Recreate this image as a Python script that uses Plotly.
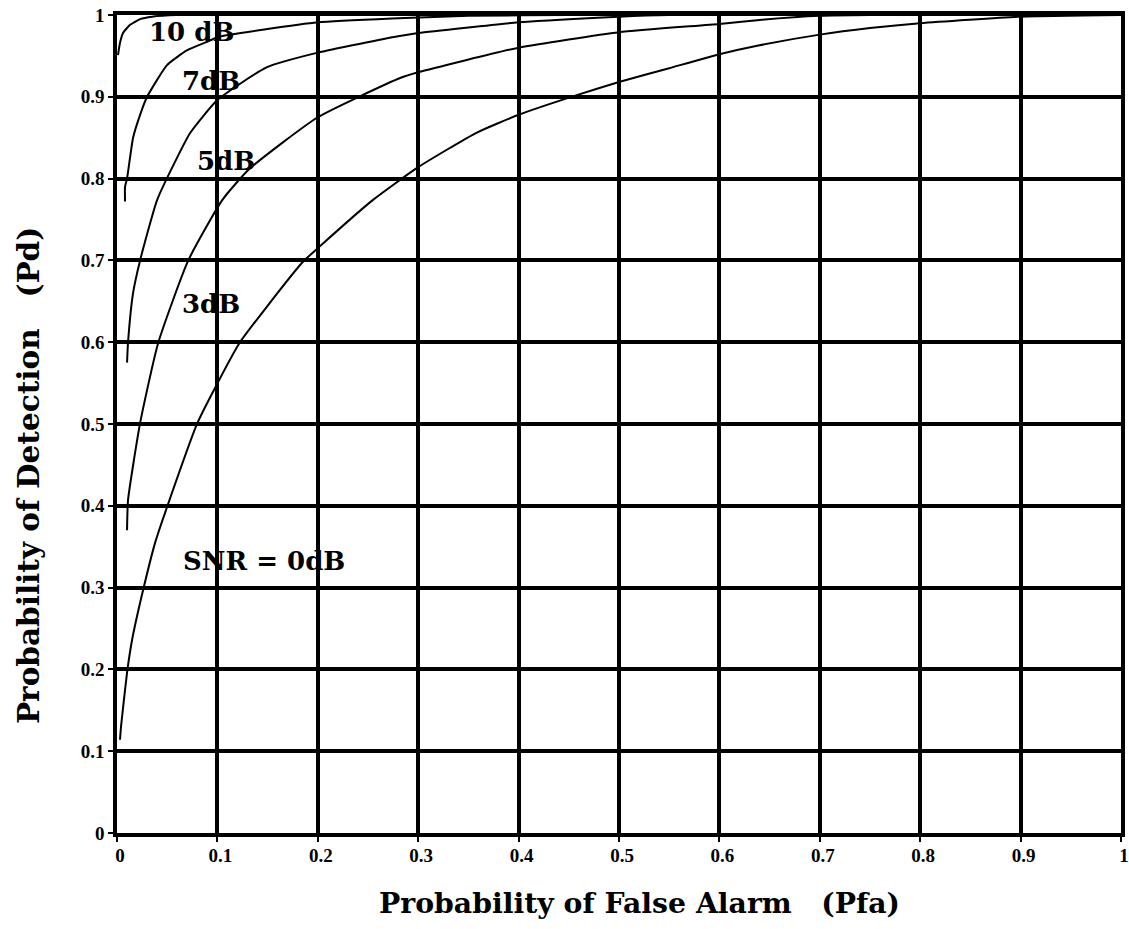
import plotly.graph_objects as go

# Tick values / labels
tick_vals = [0, 0.1, 0.2, 0.3, 0.4, 0.5, 0.6, 0.7, 0.8, 0.9, 1.0]
tick_text = ["0", "0.1", "0.2", "0.3", "0.4", "0.5", "0.6", "0.7", "0.8", "0.9", "1"]

# ROC curves (Pfa, Pd)
snr10_pfa = [0.001, 0.003, 0.006, 0.013, 0.023, 0.035, 0.06, 1.0]
snr10_pd = [0.951, 0.966, 0.978, 0.988, 0.995, 0.998, 1.0, 1.0]

snr7_pfa = [0.008, 0.008, 0.01, 0.016, 0.023, 0.03, 0.05, 0.07, 0.093, 0.1, 0.2, 0.28, 0.35, 0.45, 1.0]
snr7_pd = [0.772, 0.79, 0.80, 0.85, 0.878, 0.90, 0.939, 0.957, 0.969, 0.973, 0.991, 0.996, 0.999, 1.0, 1.0]

snr5_pfa = [0.010, 0.011, 0.016, 0.023, 0.04, 0.06, 0.073, 0.1, 0.149, 0.2, 0.28, 0.3, 0.4, 0.5, 0.55, 1.0]
snr5_pd = [0.575, 0.60, 0.66, 0.70, 0.774, 0.826, 0.856, 0.896, 0.936, 0.954, 0.974, 0.978, 0.991, 0.998, 1.0, 1.0]

snr3_pfa = [0.010, 0.011, 0.023, 0.041, 0.071, 0.105, 0.132, 0.2, 0.282, 0.3, 0.4, 0.5, 0.6, 0.64, 0.7, 0.75, 1.0]
snr3_pd = [0.37, 0.407, 0.501, 0.599, 0.70, 0.774, 0.812, 0.875, 0.923, 0.930, 0.960, 0.979, 0.989, 0.994, 0.999, 1.0, 1.0]

snr0_pfa = [0.003, 0.004, 0.01, 0.015, 0.026, 0.038, 0.05, 0.08, 0.098, 0.122, 0.149, 0.185, 0.2, 0.255,
            0.3, 0.358, 0.4, 0.458, 0.5, 0.55, 0.6, 0.64, 0.7, 0.75, 0.8, 0.9, 1.0]
snr0_pd = [0.114, 0.13, 0.196, 0.236, 0.297, 0.355, 0.399, 0.501, 0.545, 0.599, 0.643, 0.698, 0.715, 0.774,
           0.814, 0.856, 0.878, 0.902, 0.918, 0.935, 0.952, 0.963, 0.976, 0.984, 0.99, 0.998, 1.0]

# Curve labels (text, Pfa, Pd)
label_text = ["10 dB", "7dB", "5dB", "3dB", "SNR = 0dB"]
label_x = [0.030, 0.063, 0.078, 0.063, 0.064]
label_y = [0.979, 0.919, 0.822, 0.647, 0.333]

curves = [(snr10_pfa, snr10_pd), (snr7_pfa, snr7_pd), (snr5_pfa, snr5_pd),
          (snr3_pfa, snr3_pd), (snr0_pfa, snr0_pd)]

fig = go.Figure()
for (xs, ys), name in zip(curves, label_text):
    fig.add_trace(go.Scatter(x=xs, y=ys, mode="lines", name=name,
                             line=dict(color="black", width=2, shape="spline", smoothing=0.5),
                             showlegend=False, hoverinfo="skip"))

SERIF = "DejaVu Serif"
for t, x, y in zip(label_text, label_x, label_y):
    fig.add_annotation(x=x, y=y, xref="x", yref="y", text="<b>%s</b>" % t.replace(" ", "&nbsp;"),
                       showarrow=False, xanchor="left", yanchor="middle",
                       font=dict(family=SERIF, size=26, color="black"))

# Axis titles as annotations
fig.add_annotation(x=0.5204, y=-0.0856, xref="paper", yref="paper",
                   text="<b>Probability of False Alarm&nbsp;&nbsp;&nbsp;(Pfa)</b>",
                   showarrow=False, xanchor="center", yanchor="middle",
                   font=dict(family=SERIF, size=28.3, color="black"))
fig.add_annotation(x=-0.0886, y=0.4364, xref="paper", yref="paper",
                   text="<b>Probability of Detection&nbsp;&nbsp;&nbsp;(Pd)</b>",
                   showarrow=False, xanchor="center", yanchor="middle", textangle=-90,
                   font=dict(family=SERIF, size=29.5, color="black"))

bold_ticks = ["<b>%s</b>" % t for t in tick_text]
axis_common = dict(range=[0, 1], tickvals=tick_vals, ticktext=bold_ticks,
                   showgrid=True, gridcolor="black", gridwidth=3.5,
                   zeroline=False, showline=True, linecolor="black", linewidth=3.5,
                   mirror=True, ticks="outside", ticklen=5, tickwidth=2, tickcolor="black",
                   tickfont=dict(family="Liberation Serif", size=19, color="black"),
                   ticklabeloverflow="allow",
                   automargin=False, fixedrange=True)

fig.update_xaxes(**axis_common, ticklabelshift=3, ticklabelstandoff=-3)
fig.update_yaxes(**axis_common)

fig.update_layout(width=1129, height=929,
                  margin=dict(l=117, r=8, t=15, b=96),
                  paper_bgcolor="white", plot_bgcolor="white",
                  font=dict(family="Liberation Serif", color="black"))

# remove the default 8px page margin so the figure fills the window exactly
fig.write_html("out.html", config={"displayModeBar": False},
               post_script="document.body.style.margin='0px';")
